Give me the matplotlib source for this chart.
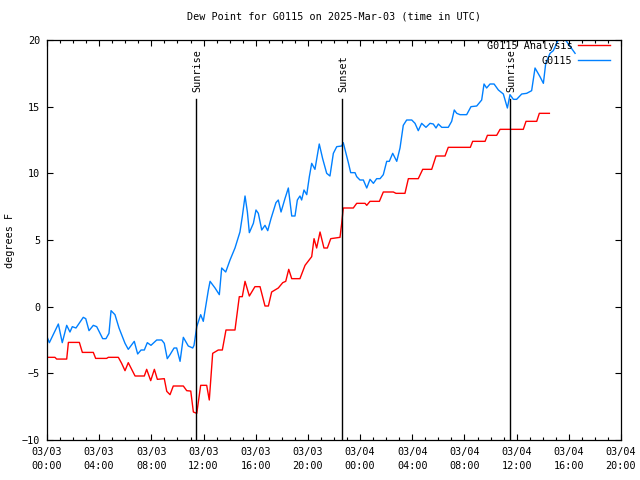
import numpy as np
import matplotlib
matplotlib.use('Agg')
import matplotlib.pyplot as plt
import matplotlib.transforms as mtransforms

# Dados (horas desde 03/03 00:00 UTC, graus F)
t_obs = [0, 0.18, 0.87, 1.17, 1.51, 1.76, 1.94, 2.22, 2.78, 2.97, 3.22, 3.55, 3.81, 4.27, 4.52,
         4.75, 4.91, 5.21, 5.52, 5.98, 6.23, 6.69, 6.95, 7.21, 7.46, 7.69, 7.97, 8.41, 8.79, 8.99,
         9.22, 9.43, 9.74, 9.94, 10.2, 10.45, 10.83, 11.17, 11.27, 11.48, 11.78, 11.98, 12.37, 12.5,
         12.88, 13.21, 13.39, 13.7, 14.03, 14.41, 14.79, 14.97, 15.18, 15.36, 15.51, 15.82, 16.02,
         16.2, 16.46, 16.71, 16.92, 17.17, 17.55, 17.73, 17.94, 18.24, 18.5, 18.76, 19.01, 19.19,
         19.39, 19.52, 19.7, 19.91, 20.11, 20.29, 20.54, 20.87, 21.13, 21.44, 21.69, 21.95, 22.21,
         22.59, 22.71, 23.1, 23.28, 23.61, 23.74, 23.99, 24.25, 24.51, 24.76, 25.02, 25.27, 25.53,
         25.78, 26.04, 26.24, 26.5, 26.81, 27.06, 27.31, 27.57, 27.96, 28.21, 28.46, 28.72, 29.05,
         29.36, 29.61, 29.82, 30.0, 30.26, 30.76, 31.02, 31.22, 31.41, 31.66, 32.17, 32.5, 32.94,
         33.32, 33.5, 33.7, 33.96, 34.27, 34.6, 34.98, 35.29, 35.49, 35.75, 36.0, 36.39, 36.77,
         37.15, 37.41, 37.79, 38.05, 38.23, 38.56, 38.81, 39.33, 39.53, 40.48]
dp_obs = [-2.25, -2.7, -1.3, -2.7, -1.4, -1.9, -1.5, -1.6, -0.8, -0.9, -1.8, -1.4, -1.5, -2.4, -2.4,
          -2.0, -0.3, -0.6, -1.6, -2.75, -3.2, -2.6, -3.55, -3.25, -3.25, -2.7, -2.9, -2.5, -2.5, -2.75,
          -3.9, -3.6, -3.1, -3.1, -4.1, -2.3, -2.95, -3.1, -2.9, -1.5, -0.6, -1.1, 1.25, 1.9,
          1.4, 0.9, 2.9, 2.6, 3.5, 4.4, 5.6, 6.75, 8.3, 7.1, 5.55, 6.25, 7.25,
          7.0, 5.75, 6.1, 5.7, 6.6, 7.8, 8.0, 7.1, 8.1, 8.9, 6.8, 6.8, 8.0,
          8.3, 8.0, 8.75, 8.4, 9.75, 10.75, 10.3, 12.2, 11.1, 10.0, 9.8, 11.5, 12.0,
          12.05, 12.3, 10.8, 10.05, 10.05, 9.75, 9.5, 9.5, 8.9, 9.55, 9.25, 9.6, 9.6,
          9.9, 10.9, 10.9, 11.5, 10.9, 11.9, 13.6, 14.0, 14.0, 13.75, 13.2, 13.75, 13.45,
          13.75, 13.7, 13.4, 13.7, 13.45, 13.45, 13.9, 14.75, 14.5, 14.4, 14.4, 15.0, 15.05,
          15.5, 16.7, 16.4, 16.7, 16.7, 16.25, 15.95, 14.9, 15.9, 15.55, 15.55, 15.95, 16.0,
          16.2, 17.9, 17.25, 16.75, 18.25, 19.0, 19.2, 20.3, 20.3, 19.0]

t_an = [0, 0.61, 0.74, 1.51, 1.64, 2.48, 2.71, 3.55, 3.73, 4.57, 4.7, 5.47, 5.72, 5.98, 6.23,
        6.75, 7.46, 7.64, 7.95, 8.23, 8.46, 8.99, 9.18, 9.43, 9.68, 10.45, 10.71, 11.02, 11.22,
        11.48, 11.78, 12.24, 12.44, 12.7, 13.13, 13.44, 13.72, 14.41, 14.74, 14.97, 15.18, 15.51,
        15.94, 16.33, 16.71, 16.97, 17.22, 17.73, 18.07, 18.3, 18.53, 18.76, 19.39, 19.78, 20.29,
        20.47, 20.67, 20.93, 21.23, 21.49, 21.75, 22.46, 22.59, 22.71, 23.48, 23.74, 24.38, 24.51,
        24.76, 25.48, 25.78, 26.55, 26.75, 27.44, 27.7, 28.46, 28.8, 29.49, 29.82, 30.51, 30.76,
        32.45, 32.63, 33.58, 33.76, 34.47, 34.73, 36.51, 36.72, 37.54, 37.74, 38.51]
dp_an = [-3.8, -3.8, -3.93, -3.93, -2.68, -2.68, -3.43, -3.43, -3.88, -3.88, -3.8, -3.8, -4.25, -4.8, -4.2,
         -5.2, -5.2, -4.7, -5.55, -4.7, -5.45, -5.4, -6.35, -6.6, -5.95, -5.95, -6.3, -6.33, -7.9,
         -8.0, -5.9, -5.9, -7.0, -3.5, -3.25, -3.25, -1.75, -1.75, 0.75, 0.75, 1.9, 0.8,
         1.5, 1.5, 0.05, 0.05, 1.1, 1.4, 1.8, 1.9, 2.8, 2.1, 2.1, 3.1, 3.75,
         5.1, 4.4, 5.6, 4.4, 4.4, 5.1, 5.2, 6.25, 7.4, 7.4, 7.75, 7.75, 7.6,
         7.9, 7.9, 8.6, 8.6, 8.5, 8.5, 9.6, 9.6, 10.3, 10.3, 11.3, 11.3, 11.95,
         11.95, 12.4, 12.4, 12.85, 12.85, 13.3, 13.3, 13.9, 13.9, 14.5, 14.5]

sun_t = [11.42, 22.61, 35.49]
sun_lbl = ['Sunrise', 'Sunset', 'Sunrise']

tick_t = list(range(0, 45, 4))
tick_lbl = ['03/03\n00:00', '03/03\n04:00', '03/03\n08:00', '03/03\n12:00', '03/03\n16:00', '03/03\n20:00',
            '03/04\n00:00', '03/04\n04:00', '03/04\n08:00', '03/04\n12:00', '03/04\n16:00', '03/04\n20:00']

plt.rcParams['font.family'] = 'DejaVu Sans Mono'
plt.rcParams['font.size'] = 7.3

fig = plt.figure(figsize=(6.4, 4.8), dpi=100)
ax = fig.add_axes([47/640, 40/480, 574/640, 400/480])

ax.plot(t_an, dp_an, color='#ff0000', lw=1, label='G0115 Analysis')
ax.plot(t_obs, dp_obs, color='#0080ff', lw=1, label='G0115')

trans = mtransforms.blended_transform_factory(ax.transData, ax.transAxes)
for ts, lb in zip(sun_t, sun_lbl):
    ax.plot([ts, ts], [0, 0.8525], color='k', lw=1, transform=trans)
    ax.text(ts + 0.08, 0.87, lb, rotation=90, ha='center', va='bottom', transform=trans)

ax.set_xlim(0, 44)
ax.set_ylim(-10, 20)
ax.set_xticks(tick_t)
ax.set_xticklabels(tick_lbl, linespacing=1.5)
ax.set_xticks(np.arange(0, 45, 1), minor=True)
ax.set_yticks(np.arange(-10, 21, 5))
ax.tick_params(direction='in', top=True, right=True, length=4, width=0.8, pad=5)
ax.tick_params(which='minor', direction='in', top=True, length=2.2, width=0.8)
for s in ax.spines.values():
    s.set_linewidth(0.9)

ax.set_title('Dew Point for G0115 on 2025-Mar-03 (time in UTC)', fontsize=7.3, pad=15)
fig.text(10/640, 0.5, 'degrees F', rotation=90, ha='center', va='center')
ax.legend(loc='upper right', bbox_to_anchor=(1 - 11/574, 1 - 1/400), frameon=False,
          markerfirst=False, handlelength=3.2, handletextpad=0.5, labelspacing=0.45,
          borderaxespad=0, borderpad=0)

plt.savefig('out.png', dpi=100)
